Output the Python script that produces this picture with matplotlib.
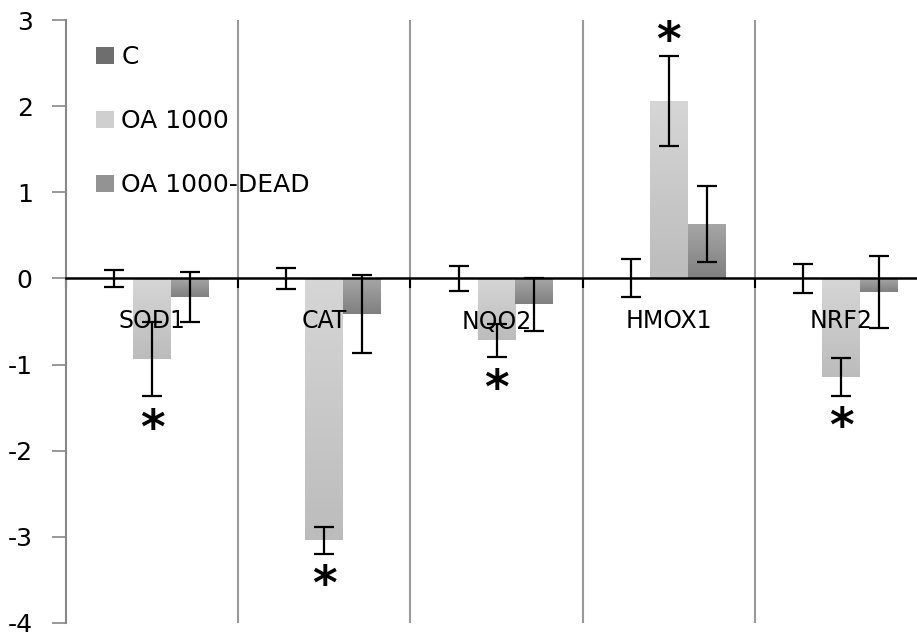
import matplotlib
matplotlib.use("Agg")
import matplotlib.pyplot as plt
import numpy as np
from matplotlib.colors import LinearSegmentedColormap
from matplotlib.patches import Patch

GENES = ["SOD1", "CAT", "NQO2", "HMOX1", "NRF2"]
SERIES = ["C", "OA 1000", "OA 1000-DEAD"]

C_MEAN = [0.0, 0.0, 0.0, 0.0, 0.0]
C_ERR = [0.10, 0.12, 0.15, 0.22, 0.17]
OA_MEAN = [-0.94, -3.04, -0.72, 2.06, -1.14]
OA_ERR = [0.43, 0.16, 0.19, 0.52, 0.22]
DEAD_MEAN = [-0.21, -0.41, -0.30, 0.63, -0.16]
DEAD_ERR = [0.29, 0.45, 0.31, 0.44, 0.42]

# significance stars: (gene index, y position)
STAR_GENE = [0, 1, 2, 3, 4]
STAR_Y = [-1.66, -3.48, -1.20, 2.84, -1.64]

COLORS = ["#6e6e6e", "#cfcfcf", "#939393"]
# light (top) -> dark (bottom) shading of each bar, like the Excel gradient
SHADES = [("#858585", "#626262"), ("#d6d6d6", "#bcbcbc"), ("#a6a6a6", "#808080")]
WIDTH = 0.22

plt.rcParams["font.family"] = ["DejaVu Sans"]
plt.rcParams["axes.unicode_minus"] = False

fig = plt.figure(figsize=(9.17, 6.36), dpi=100)
ax = fig.add_axes([66 / 917, 13 / 636, 861 / 917, 603 / 636])

x = np.arange(len(GENES))
means = [C_MEAN, OA_MEAN, DEAD_MEAN]
errs = [C_ERR, OA_ERR, DEAD_ERR]
grad = np.linspace(0, 1, 64).reshape(-1, 1)
for k, (m, e) in enumerate(zip(means, errs)):
    pos = x + (k - 1) * WIDTH
    bars = ax.bar(pos, m, WIDTH, color=COLORS[k], zorder=2)
    cmap = LinearSegmentedColormap.from_list(f"s{k}", SHADES[k])
    for b in bars:
        x0, y0 = b.get_x(), b.get_y()
        h = b.get_height()
        lo, hi = min(y0, y0 + h), max(y0, y0 + h)
        if hi - lo < 1e-6:
            continue
        im = ax.imshow(grad, cmap=cmap, aspect="auto", origin="upper",
                       extent=[x0, x0 + b.get_width(), lo, hi], zorder=2.1)
        im.set_clip_path(b)
    ax.errorbar(pos, m, yerr=e, fmt="none", ecolor="black", elinewidth=1.6,
                capsize=7, capthick=1.6, zorder=4)

for g, y in zip(STAR_GENE, STAR_Y):
    ax.text(g, y - 0.1, "*", ha="center", va="center", fontsize=34,
            fontweight="bold", zorder=5)

for i, name in enumerate(GENES):
    ax.text(i, -0.5, name, ha="center", va="center", fontsize=17, zorder=5)

ax.set_xlim(-0.5, len(GENES) - 0.5)
ax.set_ylim(-4, 3)
ax.set_yticks(range(-4, 4))
ax.set_xticks(np.arange(-0.5, len(GENES), 1.0))
ax.set_xticklabels([])
ax.tick_params(axis="x", direction="out", length=7, width=1.5, color="black")
ax.tick_params(axis="y", direction="out", length=10, width=1.2, color="#888888",
               labelsize=18, pad=14)

for bnd in np.arange(0.5, len(GENES) - 0.5, 1.0):
    ax.axvline(bnd, color="#999999", lw=1.5, zorder=1)

ax.spines["bottom"].set_position(("data", 0))
ax.spines["bottom"].set_color("black")
ax.spines["bottom"].set_linewidth(1.8)
ax.spines["bottom"].set_zorder(3)
ax.spines["left"].set_color("#888888")
ax.spines["left"].set_linewidth(1.5)
ax.spines["top"].set_visible(False)
ax.spines["right"].set_visible(False)

handles = [Patch(facecolor=c, edgecolor="none") for c in COLORS]
ax.legend(handles, SERIES, loc="upper left", bbox_to_anchor=(0.035, 0.958),
          frameon=False, fontsize=18, labelspacing=1.6, handlelength=0.7,
          handleheight=0.7, handletextpad=0.3, borderpad=0, borderaxespad=0)

fig.savefig("out.png", dpi=100)
